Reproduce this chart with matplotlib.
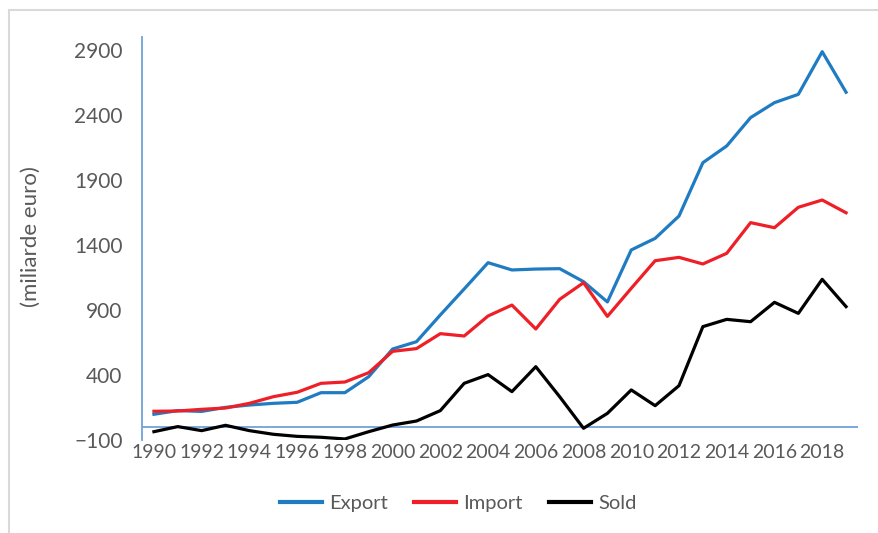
import numpy as np
import matplotlib
matplotlib.use("Agg")
import matplotlib.pyplot as plt
from matplotlib.patches import Rectangle

years = list(range(1990, 2020))
export = [98, 126, 120, 151, 169, 182, 190, 264, 264, 387,
          600, 656, 862, 1062, 1264, 1208, 1215, 1218, 1118, 962,
          1362, 1451, 1623, 2033, 2162, 2380, 2495, 2559, 2887, 2575]
imports = [121, 123, 136, 146, 182, 233, 267, 336, 346, 418,
           582, 603, 718, 700, 854, 938, 754, 982, 1110, 851,
           1067, 1279, 1305, 1254, 1336, 1572, 1533, 1690, 1746, 1648]
sold = [-36, 3, -28, 13, -28, -56, -72, -79, -92, -36,
        15, 46, 126, 336, 403, 272, 464, 233, -10, 105,
        285, 164, 318, 772, 828, 810, 959, 874, 1136, 926]
series_names = ["Export", "Import", "Sold"]
y_ticks = [-100, 400, 900, 1400, 1900, 2400, 2900]
x_ticks = list(range(1990, 2020, 2))

plt.rcParams["font.family"] = ["Lato", "DejaVu Sans"]
grey = "#595959"
axis_blue = "#6fa3d8"

fig = plt.figure(figsize=(8.79, 5.33), dpi=100)
ax = fig.add_axes([142 / 879, 93 / 533, 716 / 879, 403 / 533])

ax.plot(years, export, color="#1f7bc2", lw=2.3, label=series_names[0])
ax.plot(years, imports, color="#ee1f26", lw=2.3, label=series_names[1])
ax.plot(years, sold, color="black", lw=2.3, label=series_names[2])
ax.axhline(0, color=axis_blue, lw=1.3, zorder=0)

ax.set_xlim(1989.5, 2019.5)
ax.set_ylim(-100, 3000)
ax.set_yticks(y_ticks)
ax.set_xticks(x_ticks)
ax.tick_params(axis="y", length=0, pad=14, labelsize=15, labelcolor=grey)
ax.tick_params(axis="x", length=0, pad=3, labelsize=14, labelcolor=grey)

for side in ["top", "right", "bottom"]:
    ax.spines[side].set_visible(False)
ax.spines["left"].set_color(axis_blue)
ax.spines["left"].set_linewidth(1.3)

fig.text(31 / 879, 1 - 237 / 533, "(miliarde euro)", rotation=90,
         ha="center", va="center", fontsize=16, color=grey)

leg = fig.legend(loc="center", bbox_to_anchor=(458 / 879, 1 - 503 / 533),
                 ncol=3, frameon=False, fontsize=14.5, handlelength=2.1,
                 handletextpad=0.35, columnspacing=1.3)
for t in leg.get_texts():
    t.set_color(grey)
for h in leg.legend_handles:
    h.set_linewidth(3)

# light outer chart border
fig.patches.append(Rectangle((9 / 879, -0.1), 1.2, 1 - 10 / 533 + 0.1,
                             transform=fig.transFigure, fill=False,
                             edgecolor="#d9d9d9", lw=1.5))

fig.savefig("out.png", dpi=100)
